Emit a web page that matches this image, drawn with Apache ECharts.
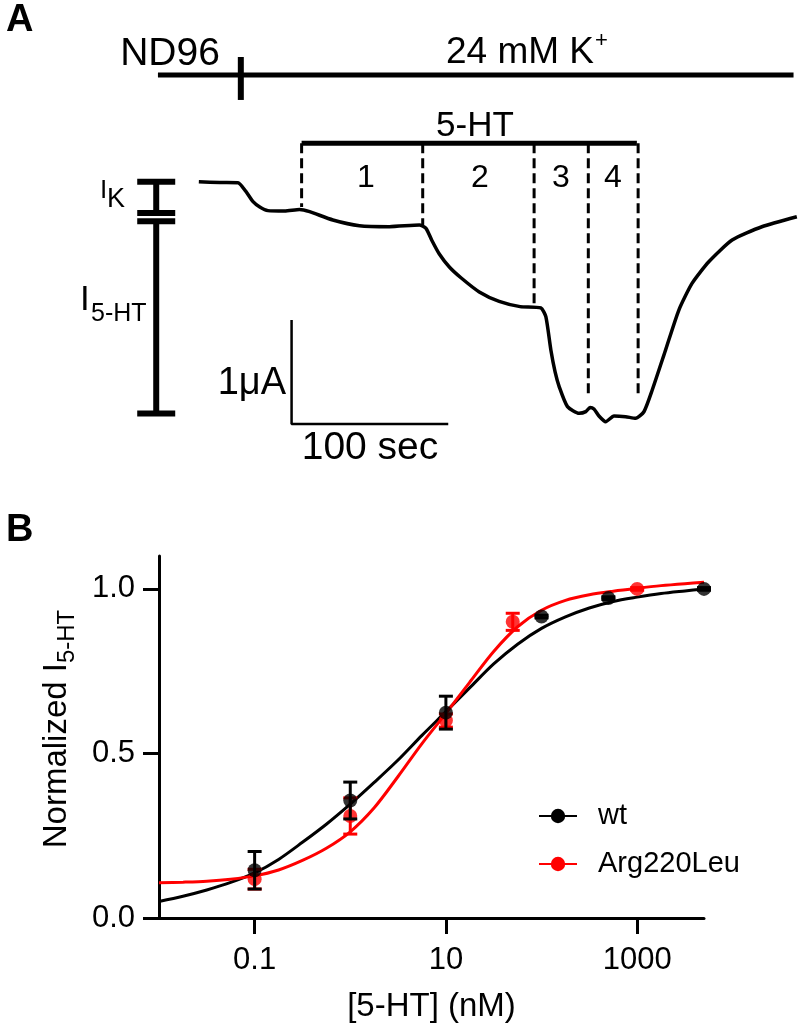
<!DOCTYPE html>
<html><head><meta charset="utf-8">
<script src="https://cdn.jsdelivr.net/npm/echarts@6/dist/echarts.min.js"></script>
<style>html,body{margin:0;padding:0;background:#fff}#c{width:802px;height:1033px}</style>
</head><body><div id="c"></div>
<script>
// ---------- Panel A: current trace (time in s, current in µA) ----------
const traceTime = [0, 13.4, 25.0, 29.8, 34.6, 38.9, 44.1, 54.8, 64.3, 70.7, 85.5, 102.5, 121.7, 140.8, 145.0,
  148.6, 153.5, 159.9, 167.5, 179.0, 191.7, 205.1, 218.3, 221.5, 224.7, 227.4, 230.0, 235.3, 242.7, 247.0,
  249.7, 252.2, 255.4, 259.7, 265.0, 272.4, 278.8, 284.1, 289.4, 297.9, 306.4, 314.8, 325.5, 340.4, 359.4, 381.7];
const traceCurrent = [0, -0.008, -0.010, -0.089, -0.192, -0.243, -0.278, -0.282, -0.267, -0.288, -0.368, -0.423, -0.432, -0.416, -0.448,
  -0.560, -0.695, -0.820, -0.926, -1.060, -1.151, -1.201, -1.214, -1.298, -1.618, -1.829, -1.970, -2.163, -2.227, -2.211,
  -2.171, -2.185, -2.253, -2.308, -2.253, -2.260, -2.275, -2.212, -2.003, -1.619, -1.234, -0.978, -0.770, -0.561, -0.433, -0.337];

// solution application bars (time s, drawn at level in µA units of the trace frame)
const kBarTimes = [-26.1, 379.6];
const kBarLevel = 1.026;
const nd96Switch = 26.8;
const nd96TickRange = [1.199, 0.786];
const htBarTimes = [65.6, 279.6];
const htBarLevel = 0.369;
// dashed separators for 5-HT concentrations 1..4
const dashTimes = [65.6, 142.9, 214.0, 248.6, 280.4];
const dashEnds = [-0.243, -0.416, -1.186, -2.08, -2.08];
const periodLabels = ['1', '2', '3', '4'];
// current scale bars (I_K and I_5-HT), at time position
const scaleBarTime = -27.2;
const ikRange = [0, -0.30];
const i5htRange = [-0.38, -2.23];
// calibration bar: 1 µA and 100 s
const calOrigin = [59.2, -2.33];
const calAmp = 1;      // µA
const calTime = 100;   // s

// ---------- Panel B: concentration-response ----------
const concWt = [0.1, 1, 10, 100, 500, 5000];
const meanWt = [0.145, 0.357, 0.624, 0.916, 0.972, 1.0];
const semWt  = [0.057, 0.056, 0.05, 0.004, 0.004, 0.004];
const concMut = [0.1, 1, 10, 50, 1000];
const meanMut = [0.118, 0.31, 0.60, 0.90, 1.0];
const semMut  = [0.03, 0.055, 0.02, 0.026, 0.004];
// fitted curves at quarter-decade steps
const fitConc = [0.01, 0.0178, 0.0316, 0.0562, 0.1, 0.178, 0.316, 0.562, 1, 1.78, 3.16, 5.62, 10, 17.8,
  31.6, 56.2, 100, 178, 316, 562, 1000, 1780, 3160, 5000];
const fitWt  = [0.050, 0.066, 0.085, 0.108, 0.137, 0.178, 0.230, 0.285, 0.346, 0.412, 0.480, 0.555, 0.627, 0.700,
  0.772, 0.832, 0.880, 0.915, 0.942, 0.962, 0.975, 0.986, 0.994, 1.000];
const fitMut = [0.107, 0.109, 0.112, 0.118, 0.128, 0.146, 0.175, 0.212, 0.262, 0.335, 0.430, 0.530, 0.622, 0.717,
  0.810, 0.885, 0.935, 0.965, 0.982, 0.993, 1.002, 1.010, 1.016, 1.020];
const xTickValues = [0.1, 10, 1000];
const yTickValues = [0, 0.5, 1.0];

const FF = "'Liberation Sans', Arial, Helvetica, sans-serif";
const chart = echarts.init(document.getElementById('c'), null, {renderer: 'canvas'});

function seg(points, width, dashed) {
  return {
    type: 'line', xAxisIndex: 0, yAxisIndex: 0, data: points, symbol: 'none', silent: true,
    clip: false, animation: false,
    lineStyle: {color: '#000', width: width, type: dashed ? [10, 5] : 'solid', cap: 'butt'}
  };
}
function capBar(xi, yi, rows, halfW, width, color, z, name) {
  return {
    type: 'custom', name: name, xAxisIndex: xi, yAxisIndex: yi, z: z, silent: true, clip: false,
    data: rows,
    encode: {x: 0, y: [1, 2]},
    renderItem: function (params, api) {
      const a = api.coord([api.value(0), api.value(1)]);
      const b = api.coord([api.value(0), api.value(2)]);
      const st = {stroke: color, lineWidth: width, fill: null};
      return {type: 'group', children: [
        {type: 'line', shape: {x1: a[0], y1: a[1], x2: b[0], y2: b[1]}, style: st},
        {type: 'line', shape: {x1: a[0] - halfW, y1: a[1], x2: a[0] + halfW, y2: a[1]}, style: st},
        {type: 'line', shape: {x1: b[0] - halfW, y1: b[1], x2: b[0] + halfW, y2: b[1]}, style: st}
      ]};
    }
  };
}
function txt(text, x, y, size, align, bold) {
  return {type: 'text', x: x, y: y, silent: true,
    style: {text: text, fontSize: size, fontWeight: bold ? 'bold' : 'normal', fontFamily: FF, fill: '#000',
      align: align || 'left', verticalAlign: 'middle'}};
}

const series = [];
// trace
series.push({type: 'line', xAxisIndex: 0, yAxisIndex: 0, symbol: 'none', smooth: 0.2, clip: false,
  data: traceTime.map((t, i) => [t, traceCurrent[i]]),
  lineStyle: {color: '#000', width: 3.5}});
// bars
series.push(seg(kBarTimes.map(t => [t, kBarLevel]), 5));
series.push(seg(nd96TickRange.map(v => [nd96Switch, v]), 6));
series.push(seg(htBarTimes.map(t => [t, htBarLevel]), 5));
dashTimes.forEach((t, i) => series.push(seg([[t, htBarLevel], [t, dashEnds[i]]], 3, true)));
series.push(capBar(0, 0, [[scaleBarTime, ikRange[0], ikRange[1]], [scaleBarTime, i5htRange[0], i5htRange[1]]], 19, 6, '#000', 3, 'scale'));
series.push(seg([[calOrigin[0], calOrigin[1] + calAmp], calOrigin, [calOrigin[0] + calTime, calOrigin[1]]], 2.5));

// panel B
series.push({name: 'wt', type: 'line', xAxisIndex: 1, yAxisIndex: 1, smooth: 0.3, symbol: 'circle', showSymbol: false,
  data: fitConc.map((c, i) => [c, fitWt[i]]), color: '#000', lineStyle: {width: 3}, z: 2});
series.push({name: 'Arg220Leu', type: 'line', xAxisIndex: 1, yAxisIndex: 1, smooth: 0.3, symbol: 'circle', showSymbol: false,
  data: fitConc.map((c, i) => [c, fitMut[i]]), color: '#ff0000', lineStyle: {width: 3}, z: 3});
series.push({name: 'Arg220Leu data', type: 'scatter', xAxisIndex: 1, yAxisIndex: 1, symbolSize: 14,
  data: concMut.map((c, i) => [c, meanMut[i]]), itemStyle: {color: '#ff0000'}, z: 4});
series.push(capBar(1, 1, concMut.map((c, i) => [c, meanMut[i] - semMut[i], meanMut[i] + semMut[i]]), 7, 3, '#ff0000', 4, 'mutErr'));
series.push(capBar(1, 1, concWt.map((c, i) => [c, meanWt[i] - semWt[i], meanWt[i] + semWt[i]]), 7, 3, '#000', 5, 'wtErr'));
series.push({name: 'wt data', type: 'scatter', xAxisIndex: 1, yAxisIndex: 1, symbolSize: 14,
  data: concWt.map((c, i) => [c, meanWt[i]]), itemStyle: {color: '#000'}, z: 6});

const fmtNum = v => String(+(+v).toPrecision(6));

chart.setOption({
  animation: false,
  textStyle: {fontFamily: FF, color: '#000'},
  grid: [
    {left: 120.5, top: 25.7, width: 682.95, height: 416},
    {left: 159, top: 556, width: 545, height: 362}
  ],
  xAxis: [
    {gridIndex: 0, type: 'value', min: -50, max: 385, show: false},
    {gridIndex: 1, type: 'log', logBase: 10, min: 0.01, max: 5000,
      name: '[5-HT] (nM)', nameLocation: 'middle', nameGap: 72,
      nameTextStyle: {fontSize: 33, color: '#000', fontFamily: FF},
      axisLine: {show: true, lineStyle: {color: '#000', width: 3}},
      axisTick: {show: true, length: 16, lineStyle: {color: '#000', width: 3}, customValues: xTickValues},
      axisLabel: {customValues: xTickValues, margin: 27, fontSize: 31, color: '#000', fontFamily: FF, formatter: fmtNum},
      splitLine: {show: false}, minorTick: {show: false}}
  ],
  yAxis: [
    {gridIndex: 0, type: 'value', min: -2.5, max: 1.5, show: false},
    {gridIndex: 1, type: 'value', min: 0, max: 1.1,
      name: 'Normalized I{s|5-HT}', nameLocation: 'middle', nameGap: 80, nameRotate: 90,
      nameTextStyle: {fontSize: 33, lineHeight: 44, color: '#000', fontFamily: FF, padding: [0, 0, 0, 16],
        rich: {s: {fontSize: 24, lineHeight: 24, verticalAlign: 'bottom', fontFamily: FF, color: '#000'}}},
      axisLine: {show: true, lineStyle: {color: '#000', width: 3}},
      axisTick: {show: true, length: 16, lineStyle: {color: '#000', width: 3}, customValues: yTickValues},
      axisLabel: {customValues: yTickValues, margin: 24, fontSize: 31, color: '#000', fontFamily: FF,
        formatter: v => (+v).toFixed(1)},
      splitLine: {show: false}}
  ],
  legend: {orient: 'vertical', left: 533, top: 796.5, itemWidth: 38, itemHeight: 18, itemGap: 19,
    data: ['wt', 'Arg220Leu'], selectedMode: false,
    textStyle: {fontSize: 29, color: '#000', fontFamily: FF, padding: [0, 0, 0, 16]}},
  graphic: [
    txt('A', 6, 21, 38, 'left', true),
    txt('ND96', 170, 54, 39, 'center'),
    txt('24 mM K', 446, 52.5, 37, 'left'),
    txt('+', 595, 41, 22, 'left'),
    txt('5-HT', 475, 126, 35, 'center'),
    txt(periodLabels[0], 366, 178, 32, 'center'),
    txt(periodLabels[1], 480, 178, 32, 'center'),
    txt(periodLabels[2], 561, 178, 32, 'center'),
    txt(periodLabels[3], 613, 178, 32, 'center'),
    txt('I', 100, 191, 26, 'left'),
    txt('K', 107, 200, 27, 'left'),
    txt('I', 80, 300.5, 35, 'left'),
    txt('5-HT', 91, 314, 25, 'left'),
    txt('1\u03bcA', 286, 383.5, 38, 'right'),
    txt('100 sec', 370, 448, 39, 'center'),
    txt('B', 6, 531, 38, 'left', true)
  ],
  series: series
});
</script>
</body></html>
